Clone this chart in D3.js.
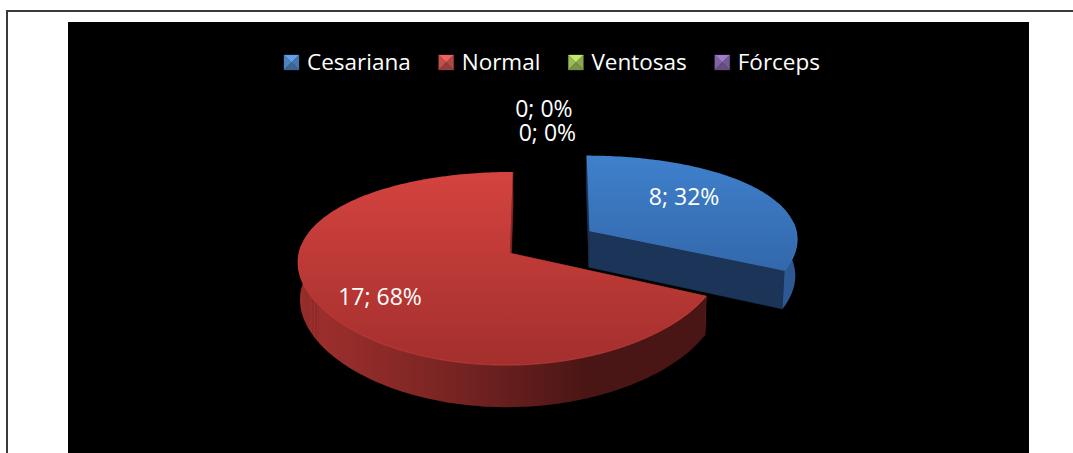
<!DOCTYPE html>
<html><head><meta charset="utf-8">
<script src="https://cdn.jsdelivr.net/npm/d3@7"></script>
<style>html,body{margin:0;padding:0;background:#fff;overflow:hidden}</style>
</head><body><svg id="c" width="1073" height="453"></svg>
<script>
// ---- data ----
const categories = ["Cesariana", "Normal", "Ventosas", "Fórceps"];
const values = [8, 17, 0, 0];

// ---- styles ----
const baseColor = d3.scaleOrdinal().domain(categories)
  .range(["#4F81BD", "#C0504D", "#9BBB59", "#8064A2"]);
const sliceStyle = {
  "Cesariana": {topFrom:"#3f80cc", topTo:"#3368ab", wallLight:"#3d7bc4", wallDark:"#2c5893", cut:"#1b3457", explode:0.45, lr:0.56, ldy:-10},
  "Normal":    {topFrom:"#d4433f", topTo:"#a32f2d", wallLight:"#9c2f2d", wallDark:"#4a1615", cut:"#8a2826", explode:0, lr:0.7, ldy:5.5},
  "Ventosas":  {topFrom:"#a8c860", topTo:"#7f9c45", wallLight:"#7f9c45", wallDark:"#4a5c28", cut:"#5d7332", explode:0, lr:0.6, ldy:0},
  "Fórceps":   {topFrom:"#8c70b4", topTo:"#66508a", wallLight:"#66508a", wallDark:"#3b2e52", cut:"#4f3e6b", explode:0, lr:0.6, ldy:0}
};

const svg = d3.select("#c");
const defs = svg.append("defs");

// page frame and black chart area
svg.append("rect").attr("x", 7).attr("y", 11).attr("width", 1120).attr("height", 520)
  .attr("fill", "#fff").attr("stroke", "#3a3a3a").attr("stroke-width", 2);
svg.append("rect").attr("x", 68).attr("y", 22).attr("width", 961).attr("height", 470).attr("fill", "#000");

// ---- 3D projection ----
const PHI = 26.5 * Math.PI / 180, DIST = 5.57, FOC = 1175, CX = 550, CY = 253, X0 = -0.19, THICK = 0.2, PX = 0.5;
function proj(X, Y, Z) {
  const yc = Y * Math.cos(PHI) + Z * Math.sin(PHI);
  const zc = -Y * Math.sin(PHI) + Z * Math.cos(PHI);
  const s = FOC / (DIST + zc);
  const sx = (FOC / DIST) * Math.pow(DIST / (DIST + zc), PX);
  return [CX + X * sx, CY - yc * s];
}

const total = d3.sum(values);
const arcs = d3.pie().sort(null).value(v => v)(values)
  .map((a, i) => Object.assign(a, {cat: categories[i], mid: (a.startAngle + a.endAngle) / 2}));

function makePt(a) {
  const st = sliceStyle[a.cat];
  const ox = st.explode * Math.sin(a.mid), oz = st.explode * Math.cos(a.mid);
  return (ang, r, y) => proj(X0 + ox + r * Math.sin(ang), y, oz + r * Math.cos(ang));
}

const line = d3.line();
const poly = pts => line(pts) + "Z";
const light = [-0.94, -0.34];

const gSlices = svg.append("g");
arcs.filter(a => a.value > 0)
  .sort((p, q) => Math.cos(q.mid) - Math.cos(p.mid))
  .forEach((a, k) => {
    const st = sliceStyle[a.cat];
    const pt = makePt(a);
    const g = gSlices.append("g");
    const steps = Math.max(2, Math.ceil((a.endAngle - a.startAngle) / (Math.PI / 180)));
    const angs = d3.range(steps + 1).map(i => a.startAngle + (a.endAngle - a.startAngle) * i / steps);

    // cut faces
    [a.startAngle, a.endAngle].forEach(ang => {
      g.append("path").attr("d", poly([pt(0, 0, 0), pt(ang, 1, 0), pt(ang, 1, -THICK), pt(0, 0, -THICK)]))
        .attr("fill", st.cut).attr("stroke", st.cut).attr("stroke-width", 0.6);
    });

    // outer wall (visible front part) with horizontal shading gradient
    const lo = Math.max(a.startAngle, Math.PI / 2 - 0.35), hi = Math.min(a.endAngle, 3 * Math.PI / 2 + 0.35);
    if (hi > lo) {
      const n = Math.max(2, Math.ceil((hi - lo) / (Math.PI / 180)));
      const wa = d3.range(n + 1).map(i => lo + (hi - lo) * i / n);
      const topArc = wa.map(ang => pt(ang, 1, 0));
      const botArc = wa.map(ang => pt(ang, 1, -THICK)).reverse();
      const wallCol = d3.interpolateRgb(st.wallDark, st.wallLight);
      const samples = wa.map(ang => ({x: pt(ang, 1, 0)[0],
        c: wallCol(Math.max(0, Math.sin(ang) * light[0] + Math.cos(ang) * light[1]))}))
        .sort((p, q) => p.x - q.x);
      const x1 = samples[0].x, x2 = samples[samples.length - 1].x;
      const wid = "wg" + k;
      const wg = defs.append("linearGradient").attr("id", wid).attr("gradientUnits", "userSpaceOnUse")
        .attr("x1", x1).attr("x2", x2).attr("y1", 0).attr("y2", 0);
      samples.forEach(s => wg.append("stop").attr("offset", (s.x - x1) / Math.max(1e-6, x2 - x1)).attr("stop-color", s.c));
      g.append("path").attr("d", poly(topArc.concat(botArc))).attr("fill", `url(#${wid})`);
    }

    // top face
    const topPts = [pt(0, 0, 0)].concat(angs.map(ang => pt(ang, 1, 0)));
    const ys = topPts.map(p => p[1]);
    const gid = "tg" + k;
    const grad = defs.append("linearGradient").attr("id", gid).attr("gradientUnits", "userSpaceOnUse")
      .attr("x1", 0).attr("x2", 0).attr("y1", d3.min(ys)).attr("y2", d3.max(ys));
    grad.append("stop").attr("offset", 0).attr("stop-color", st.topFrom);
    grad.append("stop").attr("offset", 1).attr("stop-color", st.topTo);
    g.append("path").attr("d", poly(topPts)).attr("fill", `url(#${gid})`);

    // subtle rim highlight on front edge
    const frontAngs = angs.filter(ang => Math.cos(ang) < 0.1);
    if (frontAngs.length > 1) {
      g.append("path").attr("d", line(frontAngs.map(ang => pt(ang, 1, 0))))
        .attr("fill", "none").attr("stroke", d3.color(st.topFrom).brighter(0.5)).attr("stroke-opacity", 0.45).attr("stroke-width", 1);
    }
  });

// ---- data labels ----
const pctFmt = d3.format(".0%");
const gLab = svg.append("g").attr("font-family", "'Open Sans'").attr("font-size", 23).attr("fill", "#fff")
  .attr("text-anchor", "middle").attr("dominant-baseline", "central");
let zeroIdx = 0;
arcs.forEach(a => {
  const st = sliceStyle[a.cat];
  const txt = a.value + "; " + pctFmt(a.value / total);
  let x, y;
  if (a.value > 0) {
    const p = makePt(a)(a.mid, st.lr, 0);
    x = p[0]; y = p[1] + st.ldy;
  } else {
    const p = makePt(a)(a.startAngle, 1.45, 0);
    x = p[0] + 30 + 3.5 * zeroIdx; y = p[1] - 34 + 24 * zeroIdx;
    zeroIdx++;
  }
  gLab.append("text").attr("x", x).attr("y", y).text(txt);
});

// ---- legend ----
const gLeg = svg.append("g").attr("font-family", "'Open Sans'").attr("font-size", 22.5).attr("fill", "#fff");
const MK = 15, GAP_T = 8, GAP_I = 28, LEG_CX = 552, LEG_BASE = 70;
const items = categories.map(c => {
  const g = gLeg.append("g");
  const t = g.append("text").attr("y", LEG_BASE).text(c);
  return {c, g, t, w: t.node().getComputedTextLength()};
});
const totalW = d3.sum(items, it => MK + GAP_T + it.w) + GAP_I * (items.length - 1);
let lx = LEG_CX - totalW / 2;
items.forEach(it => {
  const col = d3.color(baseColor(it.c));
  const x = lx, y = LEG_BASE - MK, cx = x + MK / 2, cy = y + MK / 2;
  const tri = [
    [[x, y], [x + MK, y], [cx, cy], col.brighter(0.6)],
    [[x, y], [x, y + MK], [cx, cy], col],
    [[x + MK, y], [x + MK, y + MK], [cx, cy], col.darker(0.3)],
    [[x, y + MK], [x + MK, y + MK], [cx, cy], col.darker(0.7)]
  ];
  tri.forEach(tr => it.g.append("path").attr("d", poly(tr.slice(0, 3))).attr("fill", tr[3]).attr("stroke", tr[3]).attr("stroke-width", 0.3));
  it.t.attr("x", x + MK + GAP_T);
  lx += MK + GAP_T + it.w + GAP_I;
});
</script>
</body></html>
